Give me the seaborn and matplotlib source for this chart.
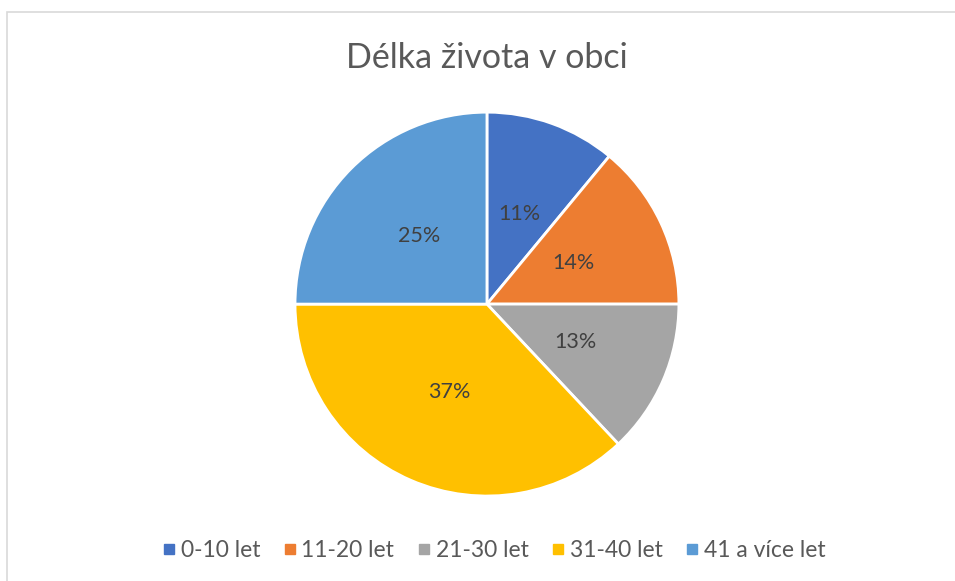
import matplotlib
matplotlib.use("Agg")
import matplotlib.pyplot as plt
import seaborn as sns
from matplotlib.lines import Line2D
from matplotlib.patches import Rectangle

# Data
categories = ["0-10 let", "11-20 let", "21-30 let", "31-40 let", "41 a více let"]
shares = [11, 14, 13, 37, 25]
colors = ["#4472C4", "#ED7D31", "#A5A5A5", "#FFC000", "#5B9BD5"]
title = "Délka života v obci"

sns.set_theme(style="white")
plt.rcParams["font.family"] = ["Lato", "DejaVu Sans"]
text_color = "#595959"

fig = plt.figure(figsize=(9.55, 5.81), dpi=100)

# chart frame
fig.patches.append(Rectangle((7 / 955, -0.05), 1.1, 1 - 12 / 581 + 0.05,
                             transform=fig.transFigure, fill=False,
                             edgecolor="#D9D9D9", linewidth=1.2))

ax = fig.add_axes([0.3079, 0.1446, 0.404, 0.664])
wedges, texts, autotexts = ax.pie(
    shares, colors=colors, startangle=90, counterclock=False,
    autopct="%1.0f%%", pctdistance=0.5,
    wedgeprops=dict(edgecolor="white", linewidth=2),
    textprops=dict(color="#404040", fontsize=15.5),
)
ax.set_xlim(-1.005, 1.005)
ax.set_ylim(-1.005, 1.005)
ax.set_aspect("equal")

fig.text(0.51, 0.9, title, ha="center", va="center", fontsize=24.5, color=text_color)

handles = [Line2D([0], [0], marker="s", linestyle="", markersize=7,
                  markerfacecolor=c, markeredgecolor=c) for c in colors]
fig.legend(handles, categories, loc="center", bbox_to_anchor=(0.516, 0.053),
           ncol=5, frameon=False, fontsize=16.5, handletextpad=0.1,
           handlelength=0.8, columnspacing=0.9, labelcolor=text_color)

fig.savefig("out.png", dpi=100)
